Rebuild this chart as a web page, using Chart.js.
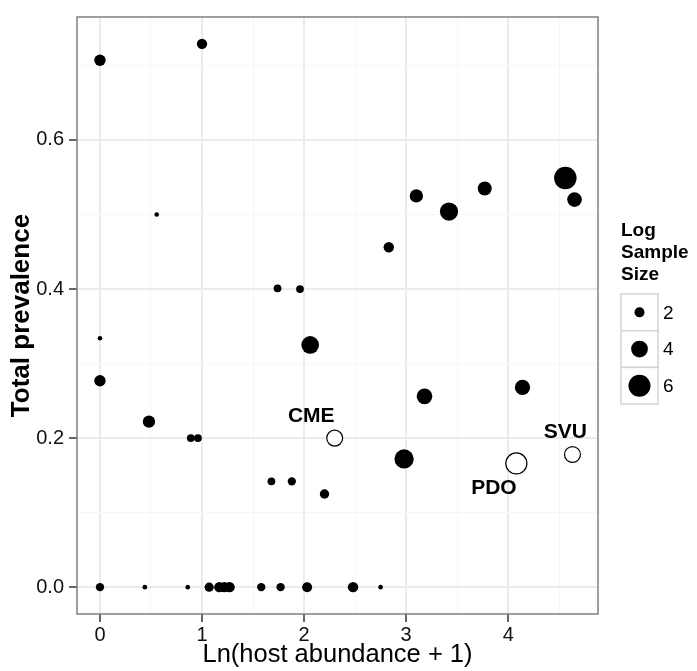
<!DOCTYPE html>
<html>
<head>
<meta charset="utf-8">
<script src="https://cdn.jsdelivr.net/npm/chart.js@4.4.0/dist/chart.umd.min.js"></script>
<style>
  html, body { margin: 0; padding: 0; background: #fff; }
  #wrap { width: 697px; height: 671px; position: relative; }
</style>
</head>
<body>
<div id="wrap"><canvas id="chart"></canvas></div>
<script>
// host abundance (x), total prevalence (y) and log sample size of every sampled site
const hostAbundance = [0, 1.00, 0.556, 1.74, 1.96, 4.56, 4.65, 3.77, 3.10, 3.42, 2.83,
  0, 0, 0.48, 0.89, 0.96, 2.06, 1.68, 1.88, 2.20, 3.18, 4.14, 2.98,
  0, 0.44, 0.86, 1.07, 1.17, 1.22, 1.27, 1.58, 1.77, 2.03, 2.48, 2.75];
const prevalence = [0.707, 0.729, 0.500, 0.401, 0.400, 0.549, 0.520, 0.535, 0.525, 0.504, 0.456,
  0.334, 0.277, 0.222, 0.200, 0.200, 0.325, 0.142, 0.142, 0.125, 0.256, 0.268, 0.172,
  0, 0, 0, 0, 0, 0, 0, 0, 0, 0, 0, 0];
const logSampleSize = [2.35, 2.1, 0.8, 1.5, 1.5, 6.2, 3.3, 3.1, 2.9, 4.5, 2.1,
  0.7, 2.35, 2.6, 1.5, 1.5, 4.3, 1.5, 1.6, 1.85, 3.6, 3.5, 4.9,
  1.6, 0.7, 0.9, 1.8, 2.1, 2.1, 2.1, 1.6, 1.6, 2.0, 2.1, 0.7];

// labelled sites (open circles)
const siteNames = ['CME', 'PDO', 'SVU'];
const siteAbundance = [2.30, 4.08, 4.63];
const sitePrevalence = [0.200, 0.166, 0.178];
const siteLogSize = [3.7, 5.6, 3.7];
const siteLabelX = [2.07, 3.86, 4.56];
const siteLabelY = [0.229, 0.133, 0.208];

const xTicks = [0, 1, 2, 3, 4];
const yTicks = [0, 0.2, 0.4, 0.6];
const xMinor = [0.5, 1.5, 2.5, 3.5, 4.5];
const yMinor = [0.1, 0.3, 0.5, 0.7];
const legendSizes = [2, 4, 6];

const FONT = "'Liberation Sans', Arial, Helvetica, sans-serif";

function radius(s) {
  return Math.max(2.3, 5.8 * Math.sqrt(s) - 3.2);
}

function isMajor(list, v) {
  return list.some(t => Math.abs(t - v) < 1e-9);
}

const mainPoints = hostAbundance.map((x, i) => ({ x: x, y: prevalence[i] }));
const sitePoints = siteAbundance.map((x, i) => ({ x: x, y: sitePrevalence[i] }));

// site names + legend + panel border
const extras = {
  id: 'extras',
  afterDatasetsDraw(chart) {
    const ctx = chart.ctx;
    const xs = chart.scales.x, ys = chart.scales.y;
    ctx.save();
    ctx.fillStyle = '#000';
    ctx.font = 'bold 21px ' + FONT;
    ctx.textAlign = 'center';
    ctx.textBaseline = 'middle';
    siteNames.forEach((name, i) => {
      ctx.fillText(name, xs.getPixelForValue(siteLabelX[i]), ys.getPixelForValue(siteLabelY[i]));
    });

    const a = chart.chartArea;
    ctx.strokeStyle = '#7f7f7f';
    ctx.lineWidth = 1.5;
    ctx.strokeRect(a.left, a.top, a.right - a.left, a.bottom - a.top);
    ctx.restore();
  },
  afterDraw(chart) {
    const ctx = chart.ctx;
    ctx.save();
    ctx.fillStyle = '#000';
    ctx.font = 'bold 19px ' + FONT;
    ctx.textAlign = 'left';
    ctx.textBaseline = 'middle';
    ['Log', 'Sample', 'Size'].forEach((t, i) => ctx.fillText(t, 621, 231 + i * 22));

    const boxX = 621, boxW = 37, boxH = 36.7, boxTop = 294;
    legendSizes.forEach((s, i) => {
      const y0 = boxTop + i * boxH;
      ctx.fillStyle = '#fff';
      ctx.fillRect(boxX, y0, boxW, boxH);
      ctx.strokeStyle = '#d4d4d4';
      ctx.lineWidth = 1.5;
      ctx.strokeRect(boxX, y0, boxW, boxH);
      ctx.fillStyle = '#000';
      ctx.beginPath();
      ctx.arc(boxX + boxW / 2, y0 + boxH / 2, radius(s), 0, Math.PI * 2);
      ctx.fill();
      ctx.font = '19px ' + FONT;
      ctx.fillText(String(s), boxX + boxW + 5, y0 + boxH / 2 + 1);
    });
    ctx.restore();
  }
};

new Chart(document.getElementById('chart'), {
  type: 'scatter',
  data: {
    datasets: [
      {
        label: 'sites',
        data: mainPoints,
        backgroundColor: '#000',
        borderWidth: 0,
        pointRadius: c => radius(logSampleSize[c.dataIndex]),
        pointHoverRadius: c => radius(logSampleSize[c.dataIndex])
      },
      {
        label: 'named sites',
        data: sitePoints,
        backgroundColor: '#fff',
        borderColor: '#000',
        borderWidth: 1.2,
        pointRadius: c => radius(siteLogSize[c.dataIndex]),
        pointHoverRadius: c => radius(siteLogSize[c.dataIndex])
      }
    ]
  },
  options: {
    responsive: true,
    maintainAspectRatio: false,
    animation: false,
    events: [],
    layout: { padding: { top: 13, right: 99, bottom: 0, left: 0 } },
    plugins: {
      legend: { display: false },
      tooltip: { enabled: false }
    },
    scales: {
      x: {
        type: 'linear',
        min: -0.225,
        max: 4.88,
        afterBuildTicks: s => { s.ticks = xTicks.concat(xMinor).sort((a, b) => a - b).map(v => ({ value: v })); },
        afterFit: s => { s.height = 57; },
        border: { display: false },
        grid: {
          color: c => isMajor(xTicks, c.tick.value) ? '#ebebeb' : '#f6f6f6',
          lineWidth: c => isMajor(xTicks, c.tick.value) ? 2 : 1,
          tickColor: c => isMajor(xTicks, c.tick.value) ? '#333' : 'rgba(0,0,0,0)',
          tickWidth: 1.5,
          tickLength: 8
        },
        ticks: {
          autoSkip: false,
          maxRotation: 0,
          padding: 1,
          color: '#111',
          font: { family: FONT, size: 20 },
          callback: v => isMajor(xTicks, v) ? String(Math.round(v)) : ''
        },
        title: {
          display: true,
          text: 'Ln(host abundance + 1)',
          color: '#000',
          font: { family: FONT, size: 25.5, lineHeight: 1 },
          padding: { top: 0, bottom: 3 }
        }
      },
      y: {
        type: 'linear',
        min: -0.036,
        max: 0.765,
        afterBuildTicks: s => { s.ticks = yTicks.concat(yMinor).sort((a, b) => a - b).map(v => ({ value: v })); },
        afterFit: s => { s.width = 77; },
        border: { display: false },
        grid: {
          color: c => isMajor(yTicks, c.tick.value) ? '#ebebeb' : '#f6f6f6',
          lineWidth: c => isMajor(yTicks, c.tick.value) ? 2 : 1,
          tickColor: c => isMajor(yTicks, c.tick.value) ? '#333' : 'rgba(0,0,0,0)',
          tickWidth: 1.5,
          tickLength: 8
        },
        ticks: {
          autoSkip: false,
          padding: 5,
          color: '#111',
          font: { family: FONT, size: 20 },
          callback: v => isMajor(yTicks, v) ? v.toFixed(1) : ''
        },
        title: {
          display: true,
          text: 'Total prevalence',
          color: '#000',
          font: { family: FONT, size: 26, weight: 'bold', lineHeight: 1 },
          padding: { top: 9, bottom: 0 }
        }
      }
    }
  },
  plugins: [extras]
});
</script>
</body>
</html>
